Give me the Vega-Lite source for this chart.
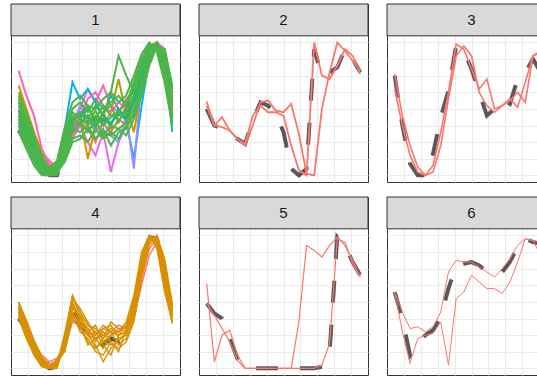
{
"$schema": "https://vega.github.io/schema/vega-lite/v6.json",
"padding": {"left": 10, "top": 3, "right": 0, "bottom": 0},
"background": "white",
"datasets": {
"series": [
{"s":"c1","p":1,"pr":1,"pc":1,"cl":"grey","r":"c"},
{"s":"a01","p":1,"pr":1,"pc":1,"cl":"pink","r":"m"},{"s":"a02","p":1,"pr":1,"pc":1,"cl":"magenta","r":"m"},{"s":"a03","p":1,"pr":1,"pc":1,"cl":"blue","r":"m"},{"s":"a04","p":1,"pr":1,"pc":1,"cl":"purple","r":"m"},{"s":"a05","p":1,"pr":1,"pc":1,"cl":"red","r":"m"},{"s":"a06","p":1,"pr":1,"pc":1,"cl":"orange","r":"m"},{"s":"a07","p":1,"pr":1,"pc":1,"cl":"olive","r":"m"},{"s":"a08","p":1,"pr":1,"pc":1,"cl":"teal","r":"m"},{"s":"a09","p":1,"pr":1,"pc":1,"cl":"pink","r":"m"},{"s":"a10","p":1,"pr":1,"pc":1,"cl":"mint","r":"m"},
{"s":"a11","p":1,"pr":1,"pc":1,"cl":"green","r":"m"},{"s":"a12","p":1,"pr":1,"pc":1,"cl":"green","r":"m"},{"s":"a13","p":1,"pr":1,"pc":1,"cl":"green","r":"m"},{"s":"a14","p":1,"pr":1,"pc":1,"cl":"green","r":"m"},{"s":"a15","p":1,"pr":1,"pc":1,"cl":"green","r":"m"},{"s":"a16","p":1,"pr":1,"pc":1,"cl":"green","r":"m"},{"s":"a17","p":1,"pr":1,"pc":1,"cl":"green","r":"m"},{"s":"a18","p":1,"pr":1,"pc":1,"cl":"green","r":"m"},{"s":"a19","p":1,"pr":1,"pc":1,"cl":"green","r":"m"},{"s":"a20","p":1,"pr":1,"pc":1,"cl":"green","r":"m"},
{"s":"c2","p":2,"pr":1,"pc":2,"cl":"grey","r":"c"},{"s":"b1","p":2,"pr":1,"pc":2,"cl":"red","r":"m"},{"s":"b2","p":2,"pr":1,"pc":2,"cl":"red","r":"m"},
{"s":"c3","p":3,"pr":1,"pc":3,"cl":"grey","r":"c"},{"s":"d1","p":3,"pr":1,"pc":3,"cl":"red","r":"m"},{"s":"d2","p":3,"pr":1,"pc":3,"cl":"red","r":"m"},
{"s":"c4","p":4,"pr":2,"pc":1,"cl":"grey","r":"c"},
{"s":"e01","p":4,"pr":2,"pc":1,"cl":"red","r":"m"},{"s":"e02","p":4,"pr":2,"pc":1,"cl":"red","r":"m"},{"s":"e03","p":4,"pr":2,"pc":1,"cl":"orange","r":"m"},{"s":"e04","p":4,"pr":2,"pc":1,"cl":"orange","r":"m"},{"s":"e05","p":4,"pr":2,"pc":1,"cl":"orange","r":"m"},{"s":"e06","p":4,"pr":2,"pc":1,"cl":"orange","r":"m"},{"s":"e07","p":4,"pr":2,"pc":1,"cl":"orange","r":"m"},{"s":"e08","p":4,"pr":2,"pc":1,"cl":"orange","r":"m"},{"s":"e09","p":4,"pr":2,"pc":1,"cl":"orange","r":"m"},{"s":"e10","p":4,"pr":2,"pc":1,"cl":"orange","r":"m"},{"s":"e11","p":4,"pr":2,"pc":1,"cl":"orange","r":"m"},{"s":"e12","p":4,"pr":2,"pc":1,"cl":"orange","r":"m"},{"s":"e13","p":4,"pr":2,"pc":1,"cl":"orange","r":"m"},{"s":"e14","p":4,"pr":2,"pc":1,"cl":"orange","r":"m"},
{"s":"c5","p":5,"pr":2,"pc":2,"cl":"grey","r":"c"},{"s":"f1","p":5,"pr":2,"pc":2,"cl":"red","r":"m"},{"s":"f2","p":5,"pr":2,"pc":2,"cl":"red","r":"m"},
{"s":"c6","p":6,"pr":2,"pc":3,"cl":"grey","r":"c"},{"s":"h1","p":6,"pr":2,"pc":3,"cl":"red","r":"m"},{"s":"h2","p":6,"pr":2,"pc":3,"cl":"red","r":"m"}
],
"pts": [
{"s":"c1","x":1,"y":2.7},{"s":"c1","x":2,"y":2.0},{"s":"c1","x":3,"y":1.2},{"s":"c1","x":4,"y":0.4},{"s":"c1","x":5,"y":0.0},{"s":"c1","x":6,"y":0.0},{"s":"c1","x":7,"y":1.6},{"s":"c1","x":8,"y":3.0},{"s":"c1","x":9,"y":3.4},{"s":"c1","x":10,"y":3.2},{"s":"c1","x":11,"y":3.5},{"s":"c1","x":12,"y":3.3},{"s":"c1","x":13,"y":3.6},{"s":"c1","x":14,"y":3.4},{"s":"c1","x":15,"y":3.8},{"s":"c1","x":16,"y":4.6},{"s":"c1","x":17,"y":6.0},{"s":"c1","x":18,"y":7.4},{"s":"c1","x":19,"y":7.9},{"s":"c1","x":20,"y":7.0},{"s":"c1","x":21,"y":5.3},
{"s":"a01","x":1,"y":6.3},{"s":"a01","x":2,"y":4.8},{"s":"a01","x":3,"y":3.6},{"s":"a01","x":4,"y":1.6},{"s":"a01","x":5,"y":0.6},{"s":"a01","x":6,"y":0.8},{"s":"a01","x":7,"y":2.4},{"s":"a01","x":8,"y":3.4},{"s":"a01","x":9,"y":4.0},{"s":"a01","x":10,"y":5.2},{"s":"a01","x":11,"y":4.4},{"s":"a01","x":12,"y":5.4},{"s":"a01","x":13,"y":4.2},{"s":"a01","x":14,"y":3.8},{"s":"a01","x":15,"y":4.6},{"s":"a01","x":16,"y":5.0},{"s":"a01","x":17,"y":6.6},{"s":"a01","x":18,"y":7.8},{"s":"a01","x":19,"y":8.0},{"s":"a01","x":20,"y":7.6},{"s":"a01","x":21,"y":5.2},
{"s":"a02","x":1,"y":4.4},{"s":"a02","x":2,"y":3.6},{"s":"a02","x":3,"y":2.4},{"s":"a02","x":4,"y":1.4},{"s":"a02","x":5,"y":0.9},{"s":"a02","x":6,"y":0.4},{"s":"a02","x":7,"y":1.2},{"s":"a02","x":8,"y":2.2},{"s":"a02","x":9,"y":3.0},{"s":"a02","x":10,"y":2.0},{"s":"a02","x":11,"y":1.2},{"s":"a02","x":12,"y":2.6},{"s":"a02","x":13,"y":0.2},{"s":"a02","x":14,"y":2.0},{"s":"a02","x":15,"y":3.0},{"s":"a02","x":16,"y":4.4},{"s":"a02","x":17,"y":6.0},{"s":"a02","x":18,"y":7.6},{"s":"a02","x":19,"y":8.0},{"s":"a02","x":20,"y":7.0},{"s":"a02","x":21,"y":3.8},
{"s":"a03","x":1,"y":3.0},{"s":"a03","x":2,"y":2.0},{"s":"a03","x":3,"y":1.0},{"s":"a03","x":4,"y":0.3},{"s":"a03","x":5,"y":0.2},{"s":"a03","x":6,"y":0.6},{"s":"a03","x":7,"y":2.8},{"s":"a03","x":8,"y":5.6},{"s":"a03","x":9,"y":4.6},{"s":"a03","x":10,"y":5.2},{"s":"a03","x":11,"y":4.4},{"s":"a03","x":12,"y":3.6},{"s":"a03","x":13,"y":4.8},{"s":"a03","x":14,"y":4.0},{"s":"a03","x":15,"y":3.2},{"s":"a03","x":16,"y":1.0},{"s":"a03","x":17,"y":4.2},{"s":"a03","x":18,"y":7.0},{"s":"a03","x":19,"y":7.8},{"s":"a03","x":20,"y":6.0},{"s":"a03","x":21,"y":3.4},
{"s":"a04","x":1,"y":3.4},{"s":"a04","x":2,"y":2.4},{"s":"a04","x":3,"y":1.4},{"s":"a04","x":4,"y":0.6},{"s":"a04","x":5,"y":0.2},{"s":"a04","x":6,"y":0.5},{"s":"a04","x":7,"y":1.6},{"s":"a04","x":8,"y":3.0},{"s":"a04","x":9,"y":4.2},{"s":"a04","x":10,"y":3.4},{"s":"a04","x":11,"y":2.6},{"s":"a04","x":12,"y":3.2},{"s":"a04","x":13,"y":2.4},{"s":"a04","x":14,"y":2.0},{"s":"a04","x":15,"y":3.6},{"s":"a04","x":16,"y":0.4},{"s":"a04","x":17,"y":5.8},{"s":"a04","x":18,"y":7.6},{"s":"a04","x":19,"y":7.9},{"s":"a04","x":20,"y":6.4},{"s":"a04","x":21,"y":4.0},
{"s":"a05","x":1,"y":4.0},{"s":"a05","x":2,"y":3.0},{"s":"a05","x":3,"y":2.0},{"s":"a05","x":4,"y":1.2},{"s":"a05","x":5,"y":0.6},{"s":"a05","x":6,"y":0.3},{"s":"a05","x":7,"y":1.4},{"s":"a05","x":8,"y":2.4},{"s":"a05","x":9,"y":3.2},{"s":"a05","x":10,"y":2.8},{"s":"a05","x":11,"y":2.0},{"s":"a05","x":12,"y":3.2},{"s":"a05","x":13,"y":2.6},{"s":"a05","x":14,"y":3.4},{"s":"a05","x":15,"y":3.0},{"s":"a05","x":16,"y":4.6},{"s":"a05","x":17,"y":6.4},{"s":"a05","x":18,"y":7.8},{"s":"a05","x":19,"y":8.0},{"s":"a05","x":20,"y":7.2},{"s":"a05","x":21,"y":4.8},
{"s":"a06","x":1,"y":5.4},{"s":"a06","x":2,"y":4.0},{"s":"a06","x":3,"y":2.6},{"s":"a06","x":4,"y":1.4},{"s":"a06","x":5,"y":0.5},{"s":"a06","x":6,"y":0.8},{"s":"a06","x":7,"y":2.0},{"s":"a06","x":8,"y":2.8},{"s":"a06","x":9,"y":3.6},{"s":"a06","x":10,"y":1.0},{"s":"a06","x":11,"y":3.0},{"s":"a06","x":12,"y":3.8},{"s":"a06","x":13,"y":2.8},{"s":"a06","x":14,"y":3.2},{"s":"a06","x":15,"y":4.2},{"s":"a06","x":16,"y":2.6},{"s":"a06","x":17,"y":5.2},{"s":"a06","x":18,"y":7.2},{"s":"a06","x":19,"y":8.0},{"s":"a06","x":20,"y":7.0},{"s":"a06","x":21,"y":4.6},
{"s":"a07","x":1,"y":4.8},{"s":"a07","x":2,"y":3.4},{"s":"a07","x":3,"y":2.0},{"s":"a07","x":4,"y":0.8},{"s":"a07","x":5,"y":0.2},{"s":"a07","x":6,"y":0.6},{"s":"a07","x":7,"y":1.8},{"s":"a07","x":8,"y":3.0},{"s":"a07","x":9,"y":3.4},{"s":"a07","x":10,"y":3.0},{"s":"a07","x":11,"y":3.6},{"s":"a07","x":12,"y":3.0},{"s":"a07","x":13,"y":3.8},{"s":"a07","x":14,"y":5.8},{"s":"a07","x":15,"y":3.6},{"s":"a07","x":16,"y":4.8},{"s":"a07","x":17,"y":6.4},{"s":"a07","x":18,"y":7.7},{"s":"a07","x":19,"y":7.9},{"s":"a07","x":20,"y":6.4},{"s":"a07","x":21,"y":4.0},
{"s":"a08","x":1,"y":3.6},{"s":"a08","x":2,"y":2.6},{"s":"a08","x":3,"y":1.5},{"s":"a08","x":4,"y":0.6},{"s":"a08","x":5,"y":0.1},{"s":"a08","x":6,"y":0.4},{"s":"a08","x":7,"y":1.8},{"s":"a08","x":8,"y":3.0},{"s":"a08","x":9,"y":3.2},{"s":"a08","x":10,"y":3.6},{"s":"a08","x":11,"y":3.0},{"s":"a08","x":12,"y":3.4},{"s":"a08","x":13,"y":3.2},{"s":"a08","x":14,"y":3.6},{"s":"a08","x":15,"y":3.8},{"s":"a08","x":16,"y":4.4},{"s":"a08","x":17,"y":5.8},{"s":"a08","x":18,"y":7.0},{"s":"a08","x":19,"y":7.8},{"s":"a08","x":20,"y":6.8},{"s":"a08","x":21,"y":2.6},
{"s":"a09","x":1,"y":3.2},{"s":"a09","x":2,"y":2.2},{"s":"a09","x":3,"y":1.6},{"s":"a09","x":4,"y":1.0},{"s":"a09","x":5,"y":0.8},{"s":"a09","x":6,"y":0.6},{"s":"a09","x":7,"y":1.4},{"s":"a09","x":8,"y":2.6},{"s":"a09","x":9,"y":3.6},{"s":"a09","x":10,"y":4.6},{"s":"a09","x":11,"y":5.0},{"s":"a09","x":12,"y":4.2},{"s":"a09","x":13,"y":3.8},{"s":"a09","x":14,"y":4.4},{"s":"a09","x":15,"y":4.0},{"s":"a09","x":16,"y":5.6},{"s":"a09","x":17,"y":7.0},{"s":"a09","x":18,"y":7.9},{"s":"a09","x":19,"y":7.6},{"s":"a09","x":20,"y":6.6},{"s":"a09","x":21,"y":4.6},
{"s":"a10","x":1,"y":3.9},{"s":"a10","x":2,"y":2.8},{"s":"a10","x":3,"y":1.6},{"s":"a10","x":4,"y":0.7},{"s":"a10","x":5,"y":0.2},{"s":"a10","x":6,"y":0.6},{"s":"a10","x":7,"y":2.0},{"s":"a10","x":8,"y":3.4},{"s":"a10","x":9,"y":3.6},{"s":"a10","x":10,"y":4.2},{"s":"a10","x":11,"y":3.2},{"s":"a10","x":12,"y":3.6},{"s":"a10","x":13,"y":3.0},{"s":"a10","x":14,"y":4.0},{"s":"a10","x":15,"y":3.4},{"s":"a10","x":16,"y":4.4},{"s":"a10","x":17,"y":6.1},{"s":"a10","x":18,"y":7.5},{"s":"a10","x":19,"y":8.0},{"s":"a10","x":20,"y":6.9},{"s":"a10","x":21,"y":4.4},
{"s":"a11","x":1,"y":3.6},{"s":"a11","x":2,"y":2.4},{"s":"a11","x":3,"y":1.2},{"s":"a11","x":4,"y":0.3},{"s":"a11","x":5,"y":0.0},{"s":"a11","x":6,"y":0.2},{"s":"a11","x":7,"y":1.6},{"s":"a11","x":8,"y":3.2},{"s":"a11","x":9,"y":3.8},{"s":"a11","x":10,"y":3.1},{"s":"a11","x":11,"y":3.9},{"s":"a11","x":12,"y":3.0},{"s":"a11","x":13,"y":3.5},{"s":"a11","x":14,"y":3.7},{"s":"a11","x":15,"y":3.6},{"s":"a11","x":16,"y":4.8},{"s":"a11","x":17,"y":6.3},{"s":"a11","x":18,"y":7.6},{"s":"a11","x":19,"y":8.0},{"s":"a11","x":20,"y":6.8},{"s":"a11","x":21,"y":4.2},
{"s":"a12","x":1,"y":4.2},{"s":"a12","x":2,"y":3.0},{"s":"a12","x":3,"y":1.8},{"s":"a12","x":4,"y":0.6},{"s":"a12","x":5,"y":0.1},{"s":"a12","x":6,"y":0.5},{"s":"a12","x":7,"y":2.2},{"s":"a12","x":8,"y":3.6},{"s":"a12","x":9,"y":3.0},{"s":"a12","x":10,"y":3.6},{"s":"a12","x":11,"y":2.8},{"s":"a12","x":12,"y":3.8},{"s":"a12","x":13,"y":4.2},{"s":"a12","x":14,"y":3.2},{"s":"a12","x":15,"y":4.0},{"s":"a12","x":16,"y":5.2},{"s":"a12","x":17,"y":6.8},{"s":"a12","x":18,"y":7.9},{"s":"a12","x":19,"y":7.7},{"s":"a12","x":20,"y":6.2},{"s":"a12","x":21,"y":3.6},
{"s":"a13","x":1,"y":3.2},{"s":"a13","x":2,"y":2.0},{"s":"a13","x":3,"y":1.0},{"s":"a13","x":4,"y":0.2},{"s":"a13","x":5,"y":0.0},{"s":"a13","x":6,"y":0.0},{"s":"a13","x":7,"y":1.2},{"s":"a13","x":8,"y":2.6},{"s":"a13","x":9,"y":3.2},{"s":"a13","x":10,"y":2.6},{"s":"a13","x":11,"y":3.3},{"s":"a13","x":12,"y":2.4},{"s":"a13","x":13,"y":3.0},{"s":"a13","x":14,"y":2.8},{"s":"a13","x":15,"y":3.2},{"s":"a13","x":16,"y":4.0},{"s":"a13","x":17,"y":5.6},{"s":"a13","x":18,"y":7.2},{"s":"a13","x":19,"y":8.0},{"s":"a13","x":20,"y":7.2},{"s":"a13","x":21,"y":4.6},
{"s":"a14","x":1,"y":4.6},{"s":"a14","x":2,"y":3.4},{"s":"a14","x":3,"y":2.2},{"s":"a14","x":4,"y":1.0},{"s":"a14","x":5,"y":0.3},{"s":"a14","x":6,"y":0.7},{"s":"a14","x":7,"y":2.6},{"s":"a14","x":8,"y":4.0},{"s":"a14","x":9,"y":4.4},{"s":"a14","x":10,"y":3.8},{"s":"a14","x":11,"y":4.6},{"s":"a14","x":12,"y":4.0},{"s":"a14","x":13,"y":4.4},{"s":"a14","x":14,"y":4.8},{"s":"a14","x":15,"y":4.2},{"s":"a14","x":16,"y":5.6},{"s":"a14","x":17,"y":7.0},{"s":"a14","x":18,"y":7.8},{"s":"a14","x":19,"y":7.6},{"s":"a14","x":20,"y":5.8},{"s":"a14","x":21,"y":3.2},
{"s":"a15","x":1,"y":2.8},{"s":"a15","x":2,"y":1.8},{"s":"a15","x":3,"y":0.8},{"s":"a15","x":4,"y":0.1},{"s":"a15","x":5,"y":0.0},{"s":"a15","x":6,"y":0.3},{"s":"a15","x":7,"y":1.0},{"s":"a15","x":8,"y":2.2},{"s":"a15","x":9,"y":2.4},{"s":"a15","x":10,"y":2.0},{"s":"a15","x":11,"y":2.8},{"s":"a15","x":12,"y":2.2},{"s":"a15","x":13,"y":2.6},{"s":"a15","x":14,"y":2.2},{"s":"a15","x":15,"y":3.0},{"s":"a15","x":16,"y":3.6},{"s":"a15","x":17,"y":5.0},{"s":"a15","x":18,"y":6.8},{"s":"a15","x":19,"y":7.9},{"s":"a15","x":20,"y":7.4},{"s":"a15","x":21,"y":5.0},
{"s":"a16","x":1,"y":5.0},{"s":"a16","x":2,"y":3.8},{"s":"a16","x":3,"y":2.4},{"s":"a16","x":4,"y":1.2},{"s":"a16","x":5,"y":0.4},{"s":"a16","x":6,"y":0.9},{"s":"a16","x":7,"y":2.9},{"s":"a16","x":8,"y":4.4},{"s":"a16","x":9,"y":4.8},{"s":"a16","x":10,"y":4.2},{"s":"a16","x":11,"y":4.0},{"s":"a16","x":12,"y":4.6},{"s":"a16","x":13,"y":5.0},{"s":"a16","x":14,"y":4.4},{"s":"a16","x":15,"y":4.8},{"s":"a16","x":16,"y":6.0},{"s":"a16","x":17,"y":7.3},{"s":"a16","x":18,"y":8.0},{"s":"a16","x":19,"y":7.4},{"s":"a16","x":20,"y":5.6},{"s":"a16","x":21,"y":3.0},
{"s":"a17","x":1,"y":3.4},{"s":"a17","x":2,"y":2.2},{"s":"a17","x":3,"y":1.3},{"s":"a17","x":4,"y":0.4},{"s":"a17","x":5,"y":0.0},{"s":"a17","x":6,"y":0.2},{"s":"a17","x":7,"y":1.4},{"s":"a17","x":8,"y":2.8},{"s":"a17","x":9,"y":2.6},{"s":"a17","x":10,"y":3.0},{"s":"a17","x":11,"y":2.2},{"s":"a17","x":12,"y":2.8},{"s":"a17","x":13,"y":1.8},{"s":"a17","x":14,"y":2.6},{"s":"a17","x":15,"y":2.8},{"s":"a17","x":16,"y":3.8},{"s":"a17","x":17,"y":5.4},{"s":"a17","x":18,"y":7.0},{"s":"a17","x":19,"y":7.8},{"s":"a17","x":20,"y":7.6},{"s":"a17","x":21,"y":5.4},
{"s":"a18","x":1,"y":3.8},{"s":"a18","x":2,"y":2.6},{"s":"a18","x":3,"y":1.4},{"s":"a18","x":4,"y":0.5},{"s":"a18","x":5,"y":0.1},{"s":"a18","x":6,"y":0.4},{"s":"a18","x":7,"y":1.8},{"s":"a18","x":8,"y":3.2},{"s":"a18","x":9,"y":3.8},{"s":"a18","x":10,"y":3.4},{"s":"a18","x":11,"y":4.2},{"s":"a18","x":12,"y":3.6},{"s":"a18","x":13,"y":5.0},{"s":"a18","x":14,"y":7.2},{"s":"a18","x":15,"y":6.0},{"s":"a18","x":16,"y":5.0},{"s":"a18","x":17,"y":6.6},{"s":"a18","x":18,"y":7.8},{"s":"a18","x":19,"y":7.9},{"s":"a18","x":20,"y":6.6},{"s":"a18","x":21,"y":4.2},
{"s":"a19","x":1,"y":4.4},{"s":"a19","x":2,"y":3.2},{"s":"a19","x":3,"y":2.0},{"s":"a19","x":4,"y":0.9},{"s":"a19","x":5,"y":0.2},{"s":"a19","x":6,"y":0.5},{"s":"a19","x":7,"y":2.4},{"s":"a19","x":8,"y":3.8},{"s":"a19","x":9,"y":3.4},{"s":"a19","x":10,"y":4.0},{"s":"a19","x":11,"y":3.4},{"s":"a19","x":12,"y":4.2},{"s":"a19","x":13,"y":3.6},{"s":"a19","x":14,"y":3.8},{"s":"a19","x":15,"y":4.4},{"s":"a19","x":16,"y":5.4},{"s":"a19","x":17,"y":6.8},{"s":"a19","x":18,"y":7.9},{"s":"a19","x":19,"y":7.8},{"s":"a19","x":20,"y":6.0},{"s":"a19","x":21,"y":3.4},
{"s":"a20","x":1,"y":2.6},{"s":"a20","x":2,"y":1.6},{"s":"a20","x":3,"y":0.6},{"s":"a20","x":4,"y":0.0},{"s":"a20","x":5,"y":0.0},{"s":"a20","x":6,"y":0.2},{"s":"a20","x":7,"y":0.8},{"s":"a20","x":8,"y":2.0},{"s":"a20","x":9,"y":2.2},{"s":"a20","x":10,"y":2.8},{"s":"a20","x":11,"y":2.2},{"s":"a20","x":12,"y":2.6},{"s":"a20","x":13,"y":2.4},{"s":"a20","x":14,"y":2.8},{"s":"a20","x":15,"y":2.4},{"s":"a20","x":16,"y":3.4},{"s":"a20","x":17,"y":4.8},{"s":"a20","x":18,"y":6.6},{"s":"a20","x":19,"y":7.8},{"s":"a20","x":20,"y":7.6},{"s":"a20","x":21,"y":5.2},
{"s":"c2","x":1,"y":4.0},{"s":"c2","x":2,"y":3.0},{"s":"c2","x":3,"y":2.8},{"s":"c2","x":4,"y":2.6},{"s":"c2","x":5,"y":2.2},{"s":"c2","x":6,"y":1.9},{"s":"c2","x":7,"y":3.3},{"s":"c2","x":8,"y":4.4},{"s":"c2","x":9,"y":4.2},{"s":"c2","x":10,"y":3.7},{"s":"c2","x":11,"y":2.6},{"s":"c2","x":12,"y":0.4},{"s":"c2","x":13,"y":0.0},{"s":"c2","x":14,"y":0.4},{"s":"c2","x":15,"y":7.6},{"s":"c2","x":16,"y":6.0},{"s":"c2","x":17,"y":6.2},{"s":"c2","x":18,"y":6.5},{"s":"c2","x":19,"y":7.6},{"s":"c2","x":20,"y":7.0},{"s":"c2","x":21,"y":6.2},
{"s":"b1","x":1,"y":4.45},{"s":"b1","x":2,"y":3.0},{"s":"b1","x":3,"y":3.5},{"s":"b1","x":4,"y":2.7},{"s":"b1","x":5,"y":2.2},{"s":"b1","x":6,"y":1.8},{"s":"b1","x":7,"y":3.0},{"s":"b1","x":8,"y":4.4},{"s":"b1","x":9,"y":4.5},{"s":"b1","x":10,"y":3.9},{"s":"b1","x":11,"y":3.8},{"s":"b1","x":12,"y":4.3},{"s":"b1","x":13,"y":2.5},{"s":"b1","x":14,"y":0.1},{"s":"b1","x":15,"y":0.0},{"s":"b1","x":16,"y":4.0},{"s":"b1","x":17,"y":6.2},{"s":"b1","x":18,"y":8.0},{"s":"b1","x":19,"y":7.5},{"s":"b1","x":20,"y":6.9},{"s":"b1","x":21,"y":6.3},
{"s":"b2","x":1,"y":4.2},{"s":"b2","x":2,"y":3.0},{"s":"b2","x":3,"y":2.9},{"s":"b2","x":4,"y":2.7},{"s":"b2","x":5,"y":2.2},{"s":"b2","x":6,"y":1.9},{"s":"b2","x":7,"y":3.6},{"s":"b2","x":8,"y":4.2},{"s":"b2","x":9,"y":3.8},{"s":"b2","x":10,"y":3.8},{"s":"b2","x":11,"y":3.6},{"s":"b2","x":12,"y":1.8},{"s":"b2","x":13,"y":0.3},{"s":"b2","x":14,"y":0.0},{"s":"b2","x":15,"y":8.0},{"s":"b2","x":16,"y":6.0},{"s":"b2","x":17,"y":5.8},{"s":"b2","x":18,"y":6.6},{"s":"b2","x":19,"y":7.6},{"s":"b2","x":20,"y":7.2},{"s":"b2","x":21,"y":6.1},
{"s":"c3","x":1,"y":6.0},{"s":"c3","x":2,"y":3.0},{"s":"c3","x":3,"y":0.7},{"s":"c3","x":4,"y":0.0},{"s":"c3","x":5,"y":0.0},{"s":"c3","x":6,"y":1.3},{"s":"c3","x":7,"y":3.5},{"s":"c3","x":8,"y":5.1},{"s":"c3","x":9,"y":7.8},{"s":"c3","x":10,"y":7.5},{"s":"c3","x":11,"y":6.4},{"s":"c3","x":12,"y":5.0},{"s":"c3","x":13,"y":3.6},{"s":"c3","x":14,"y":4.0},{"s":"c3","x":15,"y":4.6},{"s":"c3","x":16,"y":4.3},{"s":"c3","x":17,"y":5.8},{"s":"c3","x":18,"y":6.2},{"s":"c3","x":19,"y":7.0},{"s":"c3","x":20,"y":6.2},{"s":"c3","x":21,"y":5.4},
{"s":"d1","x":1,"y":6.1},{"s":"d1","x":2,"y":3.6},{"s":"d1","x":3,"y":1.8},{"s":"d1","x":4,"y":0.5},{"s":"d1","x":5,"y":0.0},{"s":"d1","x":6,"y":0.6},{"s":"d1","x":7,"y":2.6},{"s":"d1","x":8,"y":5.0},{"s":"d1","x":9,"y":7.9},{"s":"d1","x":10,"y":7.6},{"s":"d1","x":11,"y":6.4},{"s":"d1","x":12,"y":5.2},{"s":"d1","x":13,"y":5.8},{"s":"d1","x":14,"y":4.0},{"s":"d1","x":15,"y":4.2},{"s":"d1","x":16,"y":4.5},{"s":"d1","x":17,"y":5.0},{"s":"d1","x":18,"y":4.4},{"s":"d1","x":19,"y":7.2},{"s":"d1","x":20,"y":7.5},{"s":"d1","x":21,"y":6.8},
{"s":"d2","x":1,"y":5.2},{"s":"d2","x":2,"y":3.0},{"s":"d2","x":3,"y":1.2},{"s":"d2","x":4,"y":0.2},{"s":"d2","x":5,"y":0.0},{"s":"d2","x":6,"y":0.2},{"s":"d2","x":7,"y":1.8},{"s":"d2","x":8,"y":4.6},{"s":"d2","x":9,"y":7.2},{"s":"d2","x":10,"y":7.8},{"s":"d2","x":11,"y":7.2},{"s":"d2","x":12,"y":5.0},{"s":"d2","x":13,"y":4.2},{"s":"d2","x":14,"y":3.8},{"s":"d2","x":15,"y":4.2},{"s":"d2","x":16,"y":4.6},{"s":"d2","x":17,"y":4.1},{"s":"d2","x":18,"y":5.6},{"s":"d2","x":19,"y":7.2},{"s":"d2","x":20,"y":7.4},{"s":"d2","x":21,"y":7.0},
{"s":"c4","x":1,"y":3.0},{"s":"c4","x":2,"y":2.4},{"s":"c4","x":3,"y":1.2},{"s":"c4","x":4,"y":0.3},{"s":"c4","x":5,"y":0.0},{"s":"c4","x":6,"y":0.1},{"s":"c4","x":7,"y":1.6},{"s":"c4","x":8,"y":3.6},{"s":"c4","x":9,"y":2.6},{"s":"c4","x":10,"y":1.8},{"s":"c4","x":11,"y":1.6},{"s":"c4","x":12,"y":1.4},{"s":"c4","x":13,"y":1.8},{"s":"c4","x":14,"y":1.6},{"s":"c4","x":15,"y":2.0},{"s":"c4","x":16,"y":3.6},{"s":"c4","x":17,"y":6.2},{"s":"c4","x":18,"y":7.9},{"s":"c4","x":19,"y":7.8},{"s":"c4","x":20,"y":5.6},{"s":"c4","x":21,"y":3.2},
{"s":"e01","x":1,"y":3.4},{"s":"e01","x":2,"y":2.4},{"s":"e01","x":3,"y":1.4},{"s":"e01","x":4,"y":0.6},{"s":"e01","x":5,"y":0.3},{"s":"e01","x":6,"y":0.4},{"s":"e01","x":7,"y":1.2},{"s":"e01","x":8,"y":2.8},{"s":"e01","x":9,"y":2.6},{"s":"e01","x":10,"y":2.2},{"s":"e01","x":11,"y":2.0},{"s":"e01","x":12,"y":2.4},{"s":"e01","x":13,"y":2.2},{"s":"e01","x":14,"y":2.0},{"s":"e01","x":15,"y":2.2},{"s":"e01","x":16,"y":3.0},{"s":"e01","x":17,"y":5.0},{"s":"e01","x":18,"y":6.8},{"s":"e01","x":19,"y":7.6},{"s":"e01","x":20,"y":6.4},{"s":"e01","x":21,"y":3.6},
{"s":"e02","x":1,"y":3.6},{"s":"e02","x":2,"y":2.6},{"s":"e02","x":3,"y":1.6},{"s":"e02","x":4,"y":0.8},{"s":"e02","x":5,"y":0.4},{"s":"e02","x":6,"y":0.6},{"s":"e02","x":7,"y":1.4},{"s":"e02","x":8,"y":3.0},{"s":"e02","x":9,"y":2.4},{"s":"e02","x":10,"y":2.0},{"s":"e02","x":11,"y":1.8},{"s":"e02","x":12,"y":2.0},{"s":"e02","x":13,"y":2.2},{"s":"e02","x":14,"y":2.6},{"s":"e02","x":15,"y":2.4},{"s":"e02","x":16,"y":3.2},{"s":"e02","x":17,"y":5.4},{"s":"e02","x":18,"y":7.2},{"s":"e02","x":19,"y":7.8},{"s":"e02","x":20,"y":6.0},{"s":"e02","x":21,"y":3.4},
{"s":"e03","x":1,"y":4.0},{"s":"e03","x":2,"y":2.8},{"s":"e03","x":3,"y":1.6},{"s":"e03","x":4,"y":0.6},{"s":"e03","x":5,"y":0.1},{"s":"e03","x":6,"y":0.2},{"s":"e03","x":7,"y":2.0},{"s":"e03","x":8,"y":4.4},{"s":"e03","x":9,"y":3.4},{"s":"e03","x":10,"y":2.6},{"s":"e03","x":11,"y":2.2},{"s":"e03","x":12,"y":2.0},{"s":"e03","x":13,"y":2.4},{"s":"e03","x":14,"y":2.2},{"s":"e03","x":15,"y":2.6},{"s":"e03","x":16,"y":3.6},{"s":"e03","x":17,"y":6.4},{"s":"e03","x":18,"y":7.9},{"s":"e03","x":19,"y":7.6},{"s":"e03","x":20,"y":5.2},{"s":"e03","x":21,"y":3.0},
{"s":"e04","x":1,"y":3.8},{"s":"e04","x":2,"y":2.6},{"s":"e04","x":3,"y":1.4},{"s":"e04","x":4,"y":0.4},{"s":"e04","x":5,"y":0.0},{"s":"e04","x":6,"y":0.2},{"s":"e04","x":7,"y":1.8},{"s":"e04","x":8,"y":4.0},{"s":"e04","x":9,"y":3.0},{"s":"e04","x":10,"y":2.2},{"s":"e04","x":11,"y":2.6},{"s":"e04","x":12,"y":1.6},{"s":"e04","x":13,"y":2.0},{"s":"e04","x":14,"y":2.4},{"s":"e04","x":15,"y":2.2},{"s":"e04","x":16,"y":3.2},{"s":"e04","x":17,"y":6.0},{"s":"e04","x":18,"y":7.8},{"s":"e04","x":19,"y":7.9},{"s":"e04","x":20,"y":5.8},{"s":"e04","x":21,"y":3.4},
{"s":"e05","x":1,"y":3.4},{"s":"e05","x":2,"y":2.2},{"s":"e05","x":3,"y":1.0},{"s":"e05","x":4,"y":0.2},{"s":"e05","x":5,"y":0.0},{"s":"e05","x":6,"y":0.3},{"s":"e05","x":7,"y":1.4},{"s":"e05","x":8,"y":3.6},{"s":"e05","x":9,"y":3.2},{"s":"e05","x":10,"y":2.0},{"s":"e05","x":11,"y":1.4},{"s":"e05","x":12,"y":0.4},{"s":"e05","x":13,"y":1.2},{"s":"e05","x":14,"y":1.8},{"s":"e05","x":15,"y":2.0},{"s":"e05","x":16,"y":4.0},{"s":"e05","x":17,"y":6.6},{"s":"e05","x":18,"y":8.0},{"s":"e05","x":19,"y":7.6},{"s":"e05","x":20,"y":5.0},{"s":"e05","x":21,"y":2.8},
{"s":"e06","x":1,"y":3.2},{"s":"e06","x":2,"y":2.0},{"s":"e06","x":3,"y":0.8},{"s":"e06","x":4,"y":0.1},{"s":"e06","x":5,"y":0.0},{"s":"e06","x":6,"y":0.6},{"s":"e06","x":7,"y":1.2},{"s":"e06","x":8,"y":3.2},{"s":"e06","x":9,"y":2.8},{"s":"e06","x":10,"y":2.4},{"s":"e06","x":11,"y":1.8},{"s":"e06","x":12,"y":2.2},{"s":"e06","x":13,"y":1.6},{"s":"e06","x":14,"y":1.0},{"s":"e06","x":15,"y":2.4},{"s":"e06","x":16,"y":3.4},{"s":"e06","x":17,"y":5.8},{"s":"e06","x":18,"y":7.6},{"s":"e06","x":19,"y":8.0},{"s":"e06","x":20,"y":6.2},{"s":"e06","x":21,"y":3.6},
{"s":"e07","x":1,"y":3.6},{"s":"e07","x":2,"y":2.4},{"s":"e07","x":3,"y":1.2},{"s":"e07","x":4,"y":0.3},{"s":"e07","x":5,"y":0.0},{"s":"e07","x":6,"y":0.0},{"s":"e07","x":7,"y":1.6},{"s":"e07","x":8,"y":3.8},{"s":"e07","x":9,"y":2.6},{"s":"e07","x":10,"y":1.6},{"s":"e07","x":11,"y":1.2},{"s":"e07","x":12,"y":1.8},{"s":"e07","x":13,"y":2.2},{"s":"e07","x":14,"y":1.4},{"s":"e07","x":15,"y":1.8},{"s":"e07","x":16,"y":3.0},{"s":"e07","x":17,"y":5.6},{"s":"e07","x":18,"y":7.7},{"s":"e07","x":19,"y":7.9},{"s":"e07","x":20,"y":6.4},{"s":"e07","x":21,"y":3.8},
{"s":"e08","x":1,"y":3.0},{"s":"e08","x":2,"y":1.8},{"s":"e08","x":3,"y":0.8},{"s":"e08","x":4,"y":0.2},{"s":"e08","x":5,"y":0.1},{"s":"e08","x":6,"y":0.4},{"s":"e08","x":7,"y":1.0},{"s":"e08","x":8,"y":3.0},{"s":"e08","x":9,"y":2.4},{"s":"e08","x":10,"y":2.0},{"s":"e08","x":11,"y":2.2},{"s":"e08","x":12,"y":1.4},{"s":"e08","x":13,"y":0.8},{"s":"e08","x":14,"y":2.0},{"s":"e08","x":15,"y":2.6},{"s":"e08","x":16,"y":4.2},{"s":"e08","x":17,"y":6.8},{"s":"e08","x":18,"y":8.0},{"s":"e08","x":19,"y":7.4},{"s":"e08","x":20,"y":4.8},{"s":"e08","x":21,"y":2.7},
{"s":"e09","x":1,"y":3.9},{"s":"e09","x":2,"y":2.7},{"s":"e09","x":3,"y":1.5},{"s":"e09","x":4,"y":0.5},{"s":"e09","x":5,"y":0.1},{"s":"e09","x":6,"y":0.1},{"s":"e09","x":7,"y":1.8},{"s":"e09","x":8,"y":4.2},{"s":"e09","x":9,"y":3.6},{"s":"e09","x":10,"y":2.8},{"s":"e09","x":11,"y":2.0},{"s":"e09","x":12,"y":2.6},{"s":"e09","x":13,"y":2.2},{"s":"e09","x":14,"y":2.0},{"s":"e09","x":15,"y":2.2},{"s":"e09","x":16,"y":3.8},{"s":"e09","x":17,"y":6.2},{"s":"e09","x":18,"y":7.9},{"s":"e09","x":19,"y":7.8},{"s":"e09","x":20,"y":5.4},{"s":"e09","x":21,"y":3.2},
{"s":"e10","x":1,"y":3.5},{"s":"e10","x":2,"y":2.3},{"s":"e10","x":3,"y":1.1},{"s":"e10","x":4,"y":0.3},{"s":"e10","x":5,"y":0.0},{"s":"e10","x":6,"y":0.2},{"s":"e10","x":7,"y":1.5},{"s":"e10","x":8,"y":3.4},{"s":"e10","x":9,"y":2.2},{"s":"e10","x":10,"y":1.8},{"s":"e10","x":11,"y":1.0},{"s":"e10","x":12,"y":0.8},{"s":"e10","x":13,"y":1.6},{"s":"e10","x":14,"y":1.2},{"s":"e10","x":15,"y":1.6},{"s":"e10","x":16,"y":2.8},{"s":"e10","x":17,"y":5.4},{"s":"e10","x":18,"y":7.4},{"s":"e10","x":19,"y":8.0},{"s":"e10","x":20,"y":6.6},{"s":"e10","x":21,"y":3.9},
{"s":"e11","x":1,"y":3.7},{"s":"e11","x":2,"y":2.5},{"s":"e11","x":3,"y":1.3},{"s":"e11","x":4,"y":0.4},{"s":"e11","x":5,"y":0.0},{"s":"e11","x":6,"y":0.1},{"s":"e11","x":7,"y":1.7},{"s":"e11","x":8,"y":3.9},{"s":"e11","x":9,"y":3.0},{"s":"e11","x":10,"y":2.4},{"s":"e11","x":11,"y":1.6},{"s":"e11","x":12,"y":2.4},{"s":"e11","x":13,"y":2.6},{"s":"e11","x":14,"y":1.8},{"s":"e11","x":15,"y":2.0},{"s":"e11","x":16,"y":3.4},{"s":"e11","x":17,"y":6.0},{"s":"e11","x":18,"y":7.8},{"s":"e11","x":19,"y":7.8},{"s":"e11","x":20,"y":5.6},{"s":"e11","x":21,"y":3.3},
{"s":"e12","x":1,"y":3.3},{"s":"e12","x":2,"y":2.1},{"s":"e12","x":3,"y":1.0},{"s":"e12","x":4,"y":0.2},{"s":"e12","x":5,"y":0.1},{"s":"e12","x":6,"y":0.5},{"s":"e12","x":7,"y":1.3},{"s":"e12","x":8,"y":3.3},{"s":"e12","x":9,"y":2.6},{"s":"e12","x":10,"y":1.4},{"s":"e12","x":11,"y":1.8},{"s":"e12","x":12,"y":1.2},{"s":"e12","x":13,"y":2.0},{"s":"e12","x":14,"y":2.2},{"s":"e12","x":15,"y":2.8},{"s":"e12","x":16,"y":4.4},{"s":"e12","x":17,"y":7.0},{"s":"e12","x":18,"y":8.0},{"s":"e12","x":19,"y":7.2},{"s":"e12","x":20,"y":4.6},{"s":"e12","x":21,"y":2.8},
{"s":"e13","x":1,"y":4.0},{"s":"e13","x":2,"y":2.9},{"s":"e13","x":3,"y":1.7},{"s":"e13","x":4,"y":0.7},{"s":"e13","x":5,"y":0.2},{"s":"e13","x":6,"y":0.3},{"s":"e13","x":7,"y":2.1},{"s":"e13","x":8,"y":4.3},{"s":"e13","x":9,"y":3.2},{"s":"e13","x":10,"y":2.6},{"s":"e13","x":11,"y":2.4},{"s":"e13","x":12,"y":1.8},{"s":"e13","x":13,"y":2.8},{"s":"e13","x":14,"y":2.4},{"s":"e13","x":15,"y":2.4},{"s":"e13","x":16,"y":3.8},{"s":"e13","x":17,"y":6.4},{"s":"e13","x":18,"y":7.9},{"s":"e13","x":19,"y":7.7},{"s":"e13","x":20,"y":5.4},{"s":"e13","x":21,"y":3.1},
{"s":"e14","x":1,"y":3.1},{"s":"e14","x":2,"y":1.9},{"s":"e14","x":3,"y":0.9},{"s":"e14","x":4,"y":0.1},{"s":"e14","x":5,"y":0.0},{"s":"e14","x":6,"y":0.4},{"s":"e14","x":7,"y":1.1},{"s":"e14","x":8,"y":3.1},{"s":"e14","x":9,"y":2.8},{"s":"e14","x":10,"y":2.2},{"s":"e14","x":11,"y":1.2},{"s":"e14","x":12,"y":1.6},{"s":"e14","x":13,"y":1.4},{"s":"e14","x":14,"y":1.6},{"s":"e14","x":15,"y":2.2},{"s":"e14","x":16,"y":3.6},{"s":"e14","x":17,"y":6.2},{"s":"e14","x":18,"y":7.9},{"s":"e14","x":19,"y":7.9},{"s":"e14","x":20,"y":6.0},{"s":"e14","x":21,"y":3.7},
{"s":"c5","x":1,"y":3.9},{"s":"c5","x":2,"y":3.3},{"s":"c5","x":3,"y":3.0},{"s":"c5","x":4,"y":1.8},{"s":"c5","x":5,"y":0.6},{"s":"c5","x":6,"y":0.0},{"s":"c5","x":7,"y":0.0},{"s":"c5","x":8,"y":0.0},{"s":"c5","x":9,"y":0.0},{"s":"c5","x":10,"y":0.0},{"s":"c5","x":11,"y":0.0},{"s":"c5","x":12,"y":0.0},{"s":"c5","x":13,"y":0.0},{"s":"c5","x":14,"y":0.0},{"s":"c5","x":15,"y":0.0},{"s":"c5","x":16,"y":0.1},{"s":"c5","x":17,"y":1.0},{"s":"c5","x":18,"y":7.9},{"s":"c5","x":19,"y":7.4},{"s":"c5","x":20,"y":6.4},{"s":"c5","x":21,"y":5.6},
{"s":"f1","x":1,"y":5.1},{"s":"f1","x":2,"y":0.4},{"s":"f1","x":3,"y":2.0},{"s":"f1","x":4,"y":2.3},{"s":"f1","x":5,"y":0.8},{"s":"f1","x":6,"y":0.0},{"s":"f1","x":7,"y":0.0},{"s":"f1","x":8,"y":0.0},{"s":"f1","x":9,"y":0.0},{"s":"f1","x":10,"y":0.0},{"s":"f1","x":11,"y":0.0},{"s":"f1","x":12,"y":0.0},{"s":"f1","x":13,"y":2.8},{"s":"f1","x":14,"y":7.4},{"s":"f1","x":15,"y":7.1},{"s":"f1","x":16,"y":6.7},{"s":"f1","x":17,"y":7.4},{"s":"f1","x":18,"y":7.9},{"s":"f1","x":19,"y":7.4},{"s":"f1","x":20,"y":6.5},{"s":"f1","x":21,"y":5.5},
{"s":"f2","x":1,"y":3.9},{"s":"f2","x":2,"y":3.2},{"s":"f2","x":3,"y":2.4},{"s":"f2","x":4,"y":1.6},{"s":"f2","x":5,"y":0.5},{"s":"f2","x":6,"y":0.0},{"s":"f2","x":7,"y":0.0},{"s":"f2","x":8,"y":0.0},{"s":"f2","x":9,"y":0.0},{"s":"f2","x":10,"y":0.0},{"s":"f2","x":11,"y":0.0},{"s":"f2","x":12,"y":0.0},{"s":"f2","x":13,"y":0.0},{"s":"f2","x":14,"y":0.0},{"s":"f2","x":15,"y":0.0},{"s":"f2","x":16,"y":0.2},{"s":"f2","x":17,"y":1.5},{"s":"f2","x":18,"y":7.8},{"s":"f2","x":19,"y":7.6},{"s":"f2","x":20,"y":6.3},{"s":"f2","x":21,"y":5.5},
{"s":"c6","x":1,"y":4.6},{"s":"c6","x":2,"y":3.0},{"s":"c6","x":3,"y":0.8},{"s":"c6","x":4,"y":1.6},{"s":"c6","x":5,"y":2.0},{"s":"c6","x":6,"y":2.3},{"s":"c6","x":7,"y":3.1},{"s":"c6","x":8,"y":4.8},{"s":"c6","x":9,"y":6.2},{"s":"c6","x":10,"y":6.3},{"s":"c6","x":11,"y":6.4},{"s":"c6","x":12,"y":6.2},{"s":"c6","x":13,"y":5.8},{"s":"c6","x":14,"y":5.6},{"s":"c6","x":15,"y":5.8},{"s":"c6","x":16,"y":6.4},{"s":"c6","x":17,"y":7.3},{"s":"c6","x":18,"y":7.8},{"s":"c6","x":19,"y":7.6},{"s":"c6","x":20,"y":7.5},{"s":"c6","x":21,"y":7.0},
{"s":"h1","x":1,"y":4.6},{"s":"h1","x":2,"y":3.4},{"s":"h1","x":3,"y":2.4},{"s":"h1","x":4,"y":2.5},{"s":"h1","x":5,"y":2.2},{"s":"h1","x":6,"y":2.5},{"s":"h1","x":7,"y":3.4},{"s":"h1","x":8,"y":5.8},{"s":"h1","x":9,"y":6.5},{"s":"h1","x":10,"y":6.4},{"s":"h1","x":11,"y":6.4},{"s":"h1","x":12,"y":6.1},{"s":"h1","x":13,"y":5.8},{"s":"h1","x":14,"y":5.5},{"s":"h1","x":15,"y":6.0},{"s":"h1","x":16,"y":6.6},{"s":"h1","x":17,"y":7.4},{"s":"h1","x":18,"y":7.8},{"s":"h1","x":19,"y":7.7},{"s":"h1","x":20,"y":7.6},{"s":"h1","x":21,"y":6.8},
{"s":"h2","x":1,"y":4.6},{"s":"h2","x":2,"y":2.2},{"s":"h2","x":3,"y":0.3},{"s":"h2","x":4,"y":1.8},{"s":"h2","x":5,"y":2.0},{"s":"h2","x":6,"y":2.1},{"s":"h2","x":7,"y":2.8},{"s":"h2","x":8,"y":0.2},{"s":"h2","x":9,"y":4.2},{"s":"h2","x":10,"y":4.6},{"s":"h2","x":11,"y":5.6},{"s":"h2","x":12,"y":5.2},{"s":"h2","x":13,"y":4.8},{"s":"h2","x":14,"y":4.8},{"s":"h2","x":15,"y":4.5},{"s":"h2","x":16,"y":5.2},{"s":"h2","x":17,"y":6.4},{"s":"h2","x":18,"y":7.8},{"s":"h2","x":19,"y":7.7},{"s":"h2","x":20,"y":6.8},{"s":"h2","x":21,"y":5.4}
]
},
"data": {"name": "pts"},
"transform": [{"lookup": "s", "from": {"data": {"name": "series"}, "key": "s", "fields": ["p", "pr", "pc", "cl", "r"]}}],
"facet": {
"row": {"field": "pr", "type": "ordinal", "header": null},
"column": {"field": "pc", "type": "ordinal", "header": null}
},
"spacing": {"row": 12, "column": 17},
"spec": {
"width": 169,
"height": 178,
"layer": [
{
"transform": [{"filter": "datum.r === 'c'"}],
"mark": {"type": "line", "stroke": "#595959", "strokeWidth": 4, "strokeDash": [22, 22], "strokeCap": "butt"},
"encoding": {
"x": {"field": "x", "type": "quantitative", "scale": {"domain": [0, 22], "nice": false, "zero": false}, "axis": {"values": [2.2, 4.4, 6.6, 8.8, 11, 13.2, 15.4, 17.6, 19.8]}},
"y": {"field": "y", "type": "quantitative", "scale": {"domain": [-0.4, 10.316], "nice": false, "zero": false}, "axis": {"values": [0, 1, 2, 3, 4, 5, 6, 7, 8]}},
"detail": {"field": "s"}
}
},
{
"transform": [{"filter": "datum.r === 'm'"}],
"mark": {"type": "line"},
"encoding": {
"x": {"field": "x", "type": "quantitative", "scale": {"domain": [0, 22], "nice": false, "zero": false}, "axis": {"values": [2.2, 4.4, 6.6, 8.8, 11, 13.2, 15.4, 17.6, 19.8]}},
"y": {"field": "y", "type": "quantitative", "scale": {"domain": [-0.4, 10.316], "nice": false, "zero": false}, "axis": {"values": [0, 1, 2, 3, 4, 5, 6, 7, 8]}},
"color": {"field": "cl", "type": "nominal", "legend": null, "scale": {"domain": ["red", "orange", "olive", "green", "mint", "teal", "blue", "purple", "magenta", "pink"], "range": ["#F8766D", "#D89000", "#A3A500", "#4CB54A", "#00BF7D", "#00BFC4", "#00B0F6", "#9590FF", "#E76BF3", "#FF62BC"]}},
"size": {"field": "p", "type": "ordinal", "legend": null, "scale": {"domain": [1, 2, 3, 4, 5, 6], "range": [2, 1, 1, 1.8, 1, 1]}},
"detail": {"field": "s"}
}
},
{
"transform": [{"aggregate": [{"op": "count", "as": "n"}], "groupby": ["p", "pr", "pc"]}],
"mark": {"type": "rect", "fill": "#d9d9d9", "stroke": "#333333", "strokeWidth": 1},
"encoding": {
"x": {"datum": 0, "type": "quantitative", "scale": {"domain": [0, 22], "nice": false, "zero": false}, "axis": {"values": [2.2, 4.4, 6.6, 8.8, 11, 13.2, 15.4, 17.6, 19.8]}},
"x2": {"datum": 22},
"y": {"datum": 8.4, "type": "quantitative", "scale": {"domain": [-0.4, 10.316], "nice": false, "zero": false}, "axis": {"values": [0, 1, 2, 3, 4, 5, 6, 7, 8]}},
"y2": {"datum": 10.316}
}
},
{
"transform": [{"aggregate": [{"op": "count", "as": "n"}], "groupby": ["p", "pr", "pc"]}],
"mark": {"type": "text", "fontSize": 15, "font": "Liberation Sans", "color": "#1a1a1a", "align": "center", "baseline": "middle"},
"encoding": {
"x": {"datum": 11, "type": "quantitative", "scale": {"domain": [0, 22], "nice": false, "zero": false}, "axis": {"values": [2.2, 4.4, 6.6, 8.8, 11, 13.2, 15.4, 17.6, 19.8]}},
"y": {"datum": 9.36, "type": "quantitative", "scale": {"domain": [-0.4, 10.316], "nice": false, "zero": false}, "axis": {"values": [0, 1, 2, 3, 4, 5, 6, 7, 8]}},
"text": {"field": "p", "type": "nominal"}
}
}
]
},
"config": {
"view": {"stroke": "#333333", "strokeWidth": 1},
"axis": {"grid": true, "gridColor": "#ebebeb", "gridWidth": 1.2, "labels": false, "ticks": false, "domain": false, "title": null}
}
}
